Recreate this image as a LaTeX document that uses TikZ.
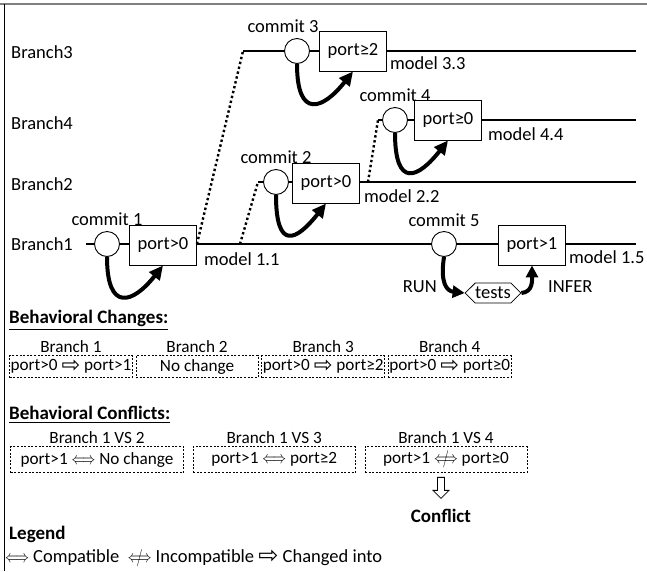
\documentclass[tikz,border=0pt]{standalone}
\usepackage{amssymb}
\usepackage{amsmath}
\usepackage{fontspec}
\setmainfont{Carlito}
\newfontfamily\arrowfont{DejaVu Sans}
\usepackage{tikz}
\usetikzlibrary{matrix,positioning,arrows.meta,shapes.symbols,shapes.arrows}

\newcommand{\compat}{\scalebox{0.75}[1]{$\Longleftrightarrow$}}
\newcommand{\incompat}{\scalebox{0.75}[1]{$\mathrel{\ooalign{$\Longleftrightarrow$\cr\hidewidth$/$\hidewidth\cr}}$}}
\newcommand{\chto}{\raisebox{-1.2pt}{\scalebox{1.3}{\arrowfont ⇨}}}

\begin{document}
\begin{tikzpicture}[x=1pt,y=-1pt,
  every node/.style={font=\fontsize{18.5}{22}\selectfont, inner sep=1pt},
  small/.style={font=\fontsize{17.2}{20}\selectfont},
  head/.style={font=\fontsize{19}{22}\selectfont\bfseries},
  branch/.style={line width=2.4pt},
  fork/.style={line width=2.4pt, dash pattern=on 2.4pt off 2.6pt},
  commit/.style={circle, draw, fill=white, line width=0.9pt, minimum size=25pt, inner sep=0pt},
  model/.style={draw, fill=white, line width=0.9pt, minimum width=67pt, minimum height=40pt},
  loop/.style={line width=4pt, -{Triangle[length=14pt,width=13pt]}},
  dbox/.style={draw, line width=0.7pt, dash pattern=on 2pt off 1.6pt},
  hollow/.style={single arrow, draw, fill=white, line width=0.8pt, shape border rotate=270,
    minimum height=21pt, minimum width=16pt, single arrow head extend=3pt, inner sep=2pt}]
\useasboundingbox (0,0) rectangle (647,571);
\draw[gray, line width=1.2pt] (0,4) -- (647,4);
\draw[line width=1pt] (4,4) -- (4,571);

% branches
\node[anchor=west] (l3) at (10,52) {Branch3};
\node[anchor=west] (l4) at (10,123) {Branch4};
\node[anchor=west] (l2) at (10,184) {Branch2};
\node[anchor=west] (l1) at (10,244) {Branch1};

\coordinate (b1s) at (86,244);  \coordinate (b1e) at (636,244);
\coordinate (b3s) at (243,51);  \coordinate (b3e) at (636,51);
\coordinate (b2e) at (636,182); \coordinate (b4e) at (636,120);
\coordinate (f2) at (240,244);  \coordinate (k2) at (258,182);
\coordinate (f4) at (368,182);  \coordinate (k4) at (378,120);

\node[commit] (c1) at (107,244) {};
\node[model] (p1) at (163,245) {port>0};
\node[commit] (c2) at (276,182) {};
\node[model] (p2) at (326,183) {port>0};
\node[commit] (c3) at (297,51) {};
\node[model] (p3) at (353,51) {port≥2};
\node[commit] (c4) at (395,120) {};
\node[model] (p4) at (448,120) {port≥0};
\node[commit] (c5) at (444,244) {};
\node[model] (p5) at (532,245) {port>1};

\draw[branch] (b1s) -- (c1.west) (c1.east) -- (c1.east -| p1.west) (c1.east -| p1.east) -- (c5.west) (c5.east) -- (c5.east -| p5.west) (c5.east -| p5.east) -- (b1e);
\draw[branch] (b3s) -- (c3.west) (c3.east) -- (p3.west) (p3.east) -- (b3e);
\draw[branch] (c2.east) -- (c2.east -| p2.west) (c2.east -| p2.east) -- (b2e);
\draw[branch] (c4.east) -- (p4.west) (p4.east) -- (b4e);
\draw[fork] (c1.east -| p1.east) -- (b3s);
\draw[fork] (f2) -- (k2);
\draw[branch] (k2) -- (c2.west);
\draw[fork] (f4) -- (k4);
\draw[branch] (k4) -- (c4.west);

\node[above=4pt of c1] (t1) {commit 1};
\node[above=4pt of c2] (t2) {commit 2};
\node[above=4pt of c3, xshift=-14pt] (t3) {commit 3};
\node[above=4pt of c4] (t4) {commit 4};
\node[above=3pt of c5] (t5) {commit 5};

\node[below right=6pt and 6pt of p1.east] (m1) {model 1.1};
\node[below right=5pt and 3pt of p2.east] (m2) {model 2.2};
\node[below right=4pt and 2pt of p3.east] (m3) {model 3.3};
\node[below right=6pt and 5pt of p4.east] (m4) {model 4.4};
\node[below right=4pt and 2pt of p5.east] (m5) {model 1.5};

\foreach \c/\p in {c1/p1, c2/p2, c3/p3, c4/p4}
  \draw[loop] (\c.south) .. controls +(0,56) and +(-30,38) .. (\p.south);

% tests run on commit 5
\node[signal, signal to=west and east, draw, line width=0.8pt, minimum width=52pt, minimum height=20pt, inner sep=0pt] (ts) at (493,293) {tests};
\node[anchor=east] (run) at (438,287) {RUN};
\node[anchor=west] (inf) at (547,287) {INFER};
\draw[loop, -{Triangle[length=12pt,width=12pt]}] (c5.south) .. controls +(-4,26) and +(-18,-2) .. (ts.west);
\draw[loop, -{Triangle[length=12pt,width=12pt]}] (ts.east) .. controls +(12,-1) and +(0,14) .. (p5.south);

% behavioral changes
\node[anchor=west, head] (hc) at (8,320) {\underline{Behavioral Changes:}};
\matrix[matrix of nodes, anchor=north west, column sep=3pt, row sep=2pt,
  nodes={small, minimum width=122pt, anchor=center},
  row 2/.style={nodes={dbox, minimum height=22pt}}] (chg) at (8,338) {
 Branch 1 & Branch 2 & Branch 3 & Branch 4 \\
 port>0 \chto{} port>1 & No change & port>0 \chto{} port≥2 & port>0 \chto{} port≥0 \\
};

% behavioral conflicts
\node[anchor=west, head] (hf) at (8,415) {\underline{Behavioral Conflicts:}};
\matrix[matrix of nodes, anchor=north west, column sep=9pt, row sep=2pt,
  nodes={small, minimum width=162pt, anchor=center},
  column 1/.style={nodes={minimum width=173pt}},
  row 2/.style={nodes={dbox, minimum height=26pt}}] (cnf) at (9,429) {
 Branch 1 VS 2 & Branch 1 VS 3 & Branch 1 VS 4 \\
 port>1 \compat{} No change & port>1 \compat{} port≥2 & port>1 \incompat{} port≥0 \\
};
\node[hollow, below=4pt of cnf-2-3, xshift=-5pt] (dn) {};
\node[below=9pt of dn, head] (cf) {Conflict};

% legend
\node[anchor=west, head] (lg) at (8,534) {Legend};
\node[anchor=west] (lk) at (4,558) {\compat{} Compatible \ \incompat{} Incompatible \chto{} Changed into};
\end{tikzpicture}
\end{document}
